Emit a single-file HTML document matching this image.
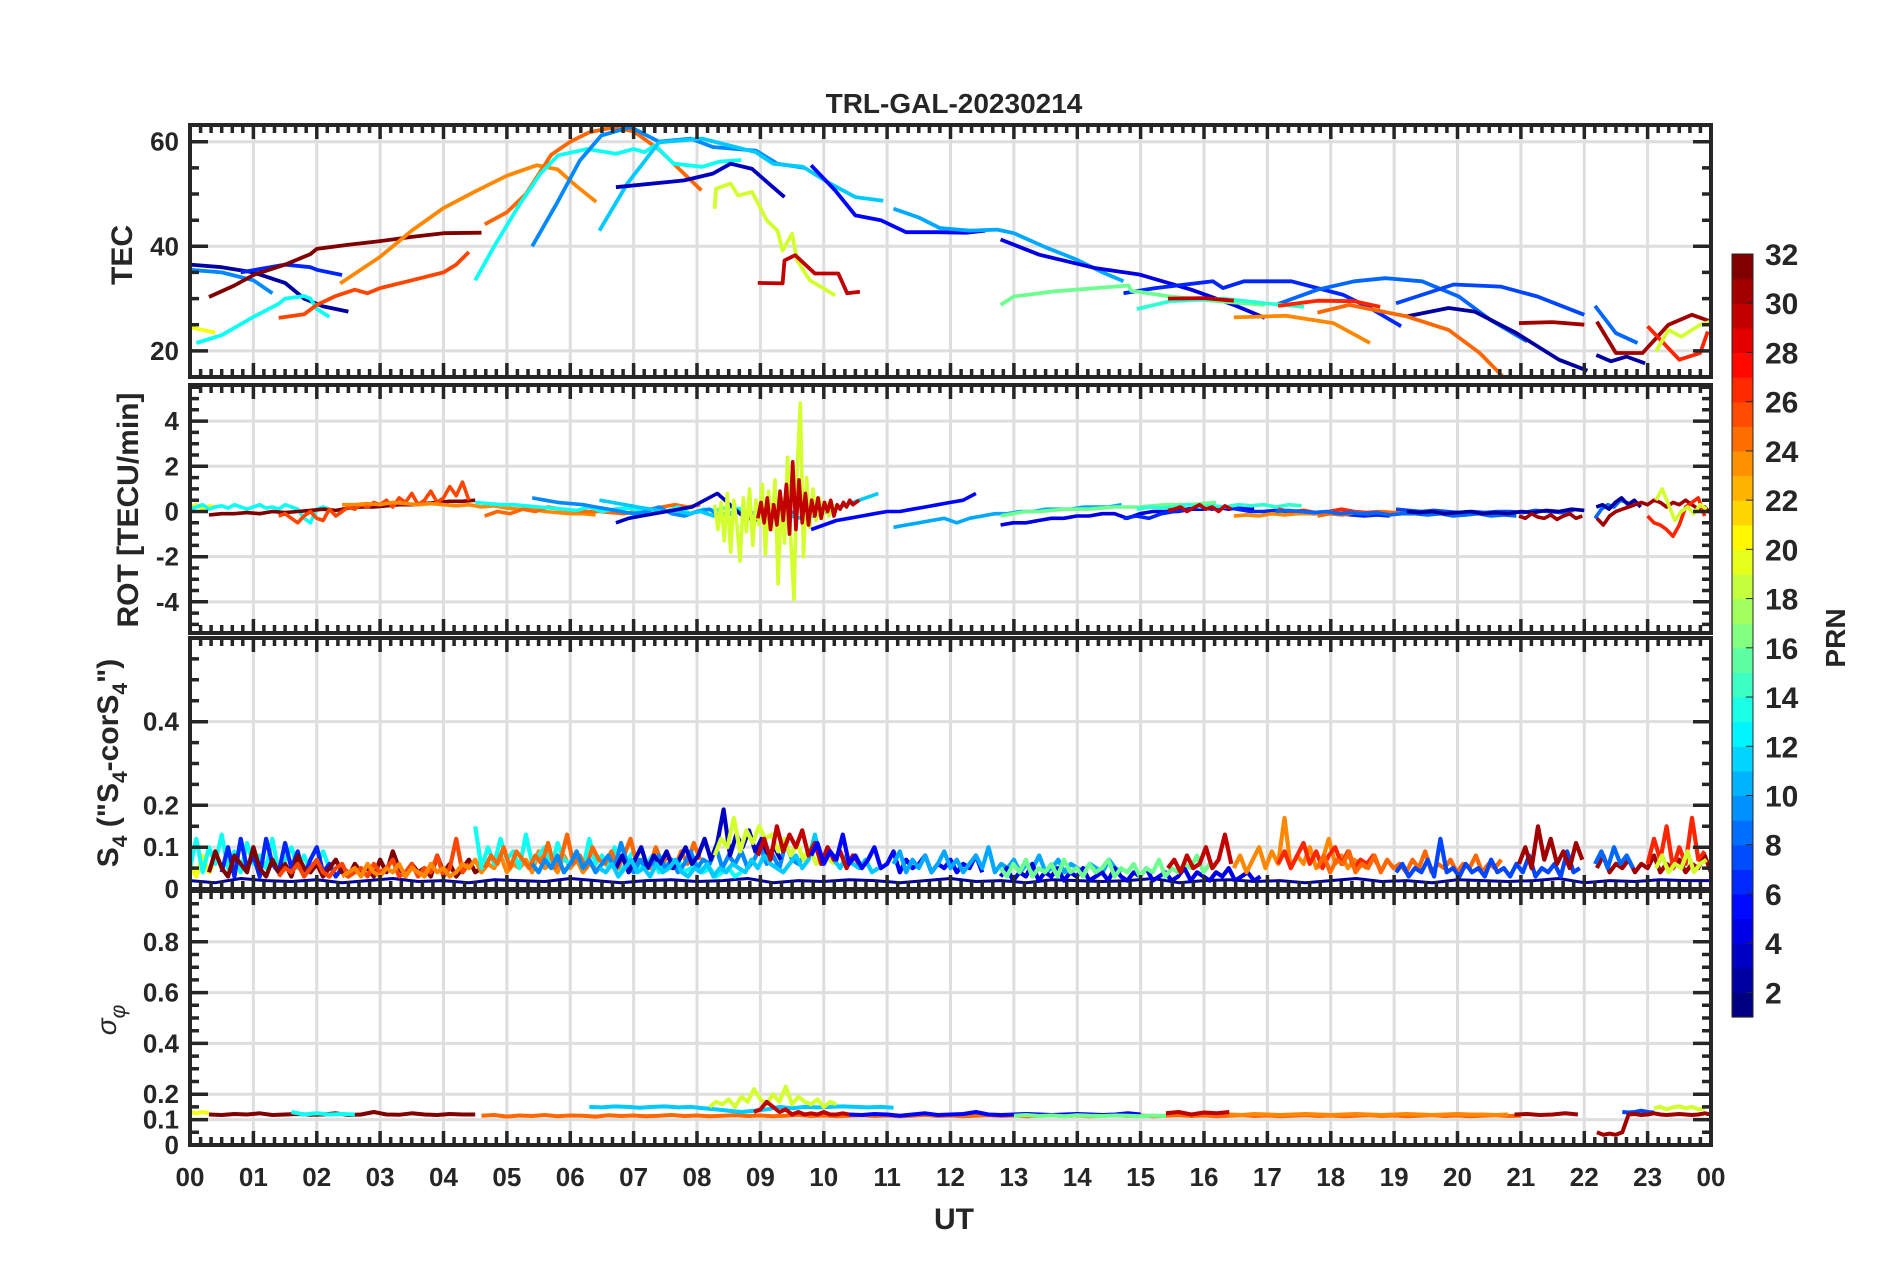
<!DOCTYPE html>
<html><head><meta charset="utf-8"><title>TRL-GAL-20230214</title>
<style>
html,body{margin:0;padding:0;background:#fff;}
svg{display:block;font-family:"Liberation Sans",Arial,sans-serif;}
</style></head>
<body>
<svg id="chart" xmlns="http://www.w3.org/2000/svg" width="1902" height="1272" viewBox="0 0 1902 1272">
<rect x="0" y="0" width="1902" height="1272" fill="#ffffff"/>
<text x="954" y="113" text-anchor="middle" font-size="28" font-weight="bold" fill="#262626">TRL-GAL-20230214</text>
<text x="954" y="1229" text-anchor="middle" font-size="30" font-weight="bold" fill="#262626">UT</text>
<text transform="translate(132,255) rotate(-90)" text-anchor="middle" font-size="30" font-weight="bold" fill="#262626">TEC</text>
<text transform="translate(138,510) rotate(-90)" text-anchor="middle" font-size="30" font-weight="bold" fill="#262626">ROT [TECU/min]</text>
<text transform="translate(118,763) rotate(-90)" text-anchor="middle" font-size="30" font-weight="bold" fill="#262626">S<tspan font-size="21" dy="9">4</tspan><tspan dy="-9"> ("S</tspan><tspan font-size="21" dy="9">4</tspan><tspan dy="-9">-corS</tspan><tspan font-size="21" dy="9">4</tspan><tspan dy="-9">")</tspan></text>
<text transform="translate(116,1020) rotate(-90)" text-anchor="middle" font-size="28" font-style="italic" fill="#262626">σ<tspan font-size="21" dy="9">φ</tspan></text>
<text transform="translate(1845,638) rotate(-90)" text-anchor="middle" font-size="28" font-weight="bold" fill="#262626">PRN</text>
<g id="layer"></g>
</svg>
<script>
// ---------- DATA ----------
const hourLabels = ["00","01","02","03","04","05","06","07","08","09","10","11","12","13","14","15","16","17","18","19","20","21","22","23","00"];
const tecTicks = [20,40,60];
const rotTicks = [-4,-2,0,2,4];
const s4Ticks = [0,0.1,0.2,0.4];
const sigTicks = [0,0.1,0.2,0.4,0.6,0.8];
const cbarTicks = [2,4,6,8,10,12,14,16,18,20,22,24,26,28,30,32];

// TEC arcs
const tecPrn = [2,9,6,32,20,13,26,24,25,13,9,11,3,5,19,30,10,4,6,8,7,2,16,14,30,27,24,25,31,8,2,31,27,19];
const tecTimes = [
[0,0.5,1,1.5,1.8,2.1,2.5],
[0,0.5,1,1.3],
[0.8,1.5,1.9,2,2.4],
[0.3,0.7,1,1.5,1.9,2,2.5,3,3.5,4,4.6],
[0,0.4],
[0.1,0.5,1,1.4,1.5,1.8,1.9,2,2.2],
[1.4,1.8,2,2.3,2.6,2.8,3,3.5,4,4.2,4.4],
[2.37,3,3.5,4,4.5,5,5.47,5.8,6.1,6.41],
[4.65,5,5.3,5.7,6,6.3,6.66,7,7.4,7.7,8.07],
[4.5,4.8,5.2,5.53,5.81,6.27,6.72,7,7.17,7.34,7.63,8.08,8.36,8.7],
[5.4,5.8,6.15,6.49,6.95,7.4,7.9,8.25,8.93,9.27,9.7],
[6.46,6.9,7.4,8.08,8.93,9.2,9.67,10.1,10.5,10.94],
[6.72,7.8,8.25,8.53,8.87,9.16,9.38],
[9.8,10.18,10.5,10.9,11.3,11.8,12.25,12.55],
[8.28,8.3,8.53,8.65,8.87,9.1,9.27,9.35,9.5,9.58,9.78,10.18],
[8.96,9.35,9.38,9.55,9.86,10.23,10.37,10.57],
[11.1,11.5,11.83,12.3,12.74,13,13.5,14,14.4,14.73],
[12.79,13.4,14.3,14.98,15.8,16.47,16.96],
[14.73,15.23,16.14,16.3,16.63,17.38,18.2,18.62,19.11],
[17.13,17.79,18.37,18.86,19.44,20.02,20.52,21.1],
[19.03,19.36,19.94,20.68,21.26,22.0],
[19.2,19.86,20.27,20.93,21.6,22.05],
[12.79,13,13.65,14.81,14.85,15.47,16.13,16.96],
[14.94,15.47,16.3,16.96,17.58],
[15.43,16.0,16.47],
[17.17,17.79,18.37,18.78],
[16.47,17.29,18.04,18.62],
[17.79,18.29,19.2,19.86,20.35,20.77],
[20.97,21.5,22.0],
[22.17,22.5,22.84],
[22.19,22.42,22.67,22.96],
[22.2,22.5,22.92,23.33,23.7,24],
[23,23.5,23.83,23.95],
[23.13,23.33,23.53,23.83,24]
];
const tecValues = [
[36.5,36,35,33,30,28.5,27.5],
[35.5,35,33.5,31],
[35,36.5,36,35.5,34.5],
[30.3,32.5,34.5,36.5,38.5,39.5,40.3,41,41.8,42.5,42.6],
[24.5,23.5],
[21.5,23,26.5,29,30,30.5,30,28,26.5],
[26.3,27,28.8,30.5,31.7,31,32,33.5,35,36.5,38.9],
[32.9,38,43,47.3,50.5,53.5,55.5,54.7,51.5,48.5],
[44.2,46.5,50,57.5,60,61.8,62.7,62,58.5,55,50.7],
[33.5,40,48,53.9,57.4,58.6,57.7,58.6,58,59.3,55.8,55.2,56.2,56.5],
[40,48.5,56.4,61.2,62.8,60,60.6,59,58.3,55.8,55],
[43,52,59.9,60.6,58,55.8,55.2,52,49.4,48.7],
[51.3,52.6,53.9,55.8,54.8,51.7,49.4],
[55.5,50.7,45.9,45,42.7,42.7,42.6,43],
[47.2,51,52,49.7,50.4,45,43,39.2,42.4,37.3,33.5,30.6],
[33,32.9,37.3,38.3,34.8,34.8,31,31.3],
[47.2,45.5,43.5,43,43.2,42.5,39.8,37.4,35,33.3],
[41.3,38.4,35.8,34.6,31.7,28.8,26.3],
[31,32,33.3,32,33.3,33.3,30.7,28.2,24.7],
[28.8,31.7,33.3,33.9,33.3,30.4,25.9,21.8],
[29.1,30.4,32.7,32.3,30.4,26.9],
[26.6,28.2,27.5,23.4,18.3,16.2],
[28.8,30.4,31.4,32.5,31.5,30.4,29.6,28.8],
[28,29.5,30,29.1,28.4],
[30,30.1,29.6],
[28.6,29.6,29.5,28.4],
[26.4,26.7,25.3,21.5],
[27.3,28.8,26.6,24,19.6,14.4],
[25.3,25.5,25],
[28.6,23.4,21.5],
[19.2,18,18.9,17.6],
[25.6,19.6,19.6,25,26.9,25.6],
[24.7,18.3,19.6,23.7],
[19.9,24,22.7,25,25.6]
];

// ROT arcs (start hour, step in hours, values)
const rotPrn = [20,13,32,26,24,25,13,9,11,3,19,30,5,10,4,16,6,14,30,24,27,25,8,7,2,31,8,2,31,27,19];
const rotStart = [0,0,0.3,1.4,2.4,4.65,4.5,5.4,6.46,6.72,8.28,8.96,9.8,11.1,12.79,12.79,14.73,14.94,15.43,16.47,17.17,17.79,17.13,19.03,19.2,20.97,22.17,22.19,22.2,23,23.13];
const rotStep = [0.1,0.1,0.2,0.1,0.2,0.2,0.2,0.2,0.2,0.2,0.05,0.05,0.2,0.2,0.2,0.2,0.2,0.2,0.1,0.2,0.2,0.2,0.2,0.2,0.2,0.1,0.1,0.1,0.1,0.1,0.1];
const rotValues = [
[0.2,0.3,0.1,0.25,0.2],
[0.1,0.2,0.3,0.1,0.2,0.25,0.15,0.3,0.2,0.1,0.2,0.3,0.15,0.2,0.1,0.3,0.2,0.1,-0.3,-0.5,0.1,0.2,0.1],
[-0.15,-0.1,-0.1,-0.05,-0.1,0,-0.05,0,0.05,0.1,0.05,0.15,0.2,0.2,0.25,0.3,0.3,0.35,0.4,0.45,0.45,0.5],
[-0.2,-0.1,-0.3,-0.5,-0.2,0,-0.3,-0.4,0.1,-0.2,0,0.2,0.1,0.3,0.2,0.4,0.3,0.5,0.2,0.6,0.4,0.8,0.3,0.5,0.9,0.4,0.6,1.1,0.7,1.3,0.5],
[0.3,0.3,0.35,0.3,0.4,0.35,0.3,0.35,0.3,0.25,0.3,0.2,0.25,0.15,0.1,0.1,0,-0.05,-0.1,-0.1,-0.15],
[-0.2,0,-0.1,0.1,0,0.2,0.1,0.05,0,0,-0.05,-0.1,0,0.1,0.2,0.3,0.2,0.3],
[0.4,0.35,0.3,0.3,0.25,0.2,0.15,0.1,0.05,0.2,0,0.1,0.15,0.05,-0.1,0,0.2,-0.1,0.1,0.05,0.2,0.1],
[0.6,0.5,0.4,0.35,0.3,0.2,0.1,0,-0.1,0,0.2,-0.1,-0.2,0,0.1,-0.3,0,-0.2,0.1,0.2,-0.1,0],
[0.5,0.4,0.3,0.2,0.1,0,0.05,-0.1,0,-0.2,-0.1,0,-0.3,-0.2,0,-0.2,-0.3,-0.2,0,0.2,0.4,0.6,0.8],
[-0.5,-0.3,-0.2,-0.1,0,0.1,0.2,0.5,0.8,0.3,-0.2,-0.4,0.2,0.5],
[0.3,-0.8,0.4,-1.3,0.8,-1.8,0.5,-0.6,-2.2,0.6,-0.9,1.0,-1.5,0.5,-0.6,1.2,-1.9,0.9,-0.8,1.4,-3.2,0.6,-1.4,2.4,-1.2,-3.9,1.8,4.8,-2.0,1.5,-0.7,1.0,-0.4,0.6,-0.3,0.4,-0.2,0.3,0.1],
[-0.3,0.4,-0.5,0.6,-0.8,0.3,-0.6,0.9,-0.4,1.2,-1.0,2.2,-0.8,1.4,-0.5,0.8,-0.6,0.5,-0.2,0.6,-0.3,0.4,0,0.5,-0.2,0.3,0.1,0.4,0.2,0.5,0.3,0.4,0.5],
[-0.8,-0.6,-0.4,-0.3,-0.2,-0.1,0,0,0.1,0.2,0.3,0.4,0.5,0.8],
[-0.7,-0.6,-0.5,-0.4,-0.3,-0.5,-0.3,-0.2,-0.1,-0.1,0,0,0.1,0.1,0.1,0.2,0.2,0.2,0.3],
[-0.6,-0.5,-0.5,-0.4,-0.3,-0.3,-0.2,-0.2,-0.1,-0.1,-0.3,-0.1,0,0,0,0.1,0.1,0.2,0.1,0.2,0.1],
[-0.2,-0.1,0,0,0.05,0.1,0.1,0.1,0.15,0.2,0.2,0.2,0.25,0.3,0.3,0.3,0.35,0.4],
[-0.3,-0.2,-0.3,-0.1,0,0.1,0.2,0.1,0.2,0.1,0,0,0.05,0,-0.05,-0.1,-0.05,-0.1,-0.15,-0.2,-0.15,-0.2],
[0.1,0.2,0.15,0.2,0.3,0.2,0.25,0.2,0.3,0.25,0.3,0.2,0.3,0.25],
[0.05,0.1,0.2,0,0.15,0.3,0.1,0.2,0,0.25,0.1],
[-0.2,-0.15,-0.2,-0.1,-0.15,-0.1,-0.1,-0.05,-0.1,0,-0.05],
[0.1,0,0.05,-0.05,0,0.1,0,-0.05,0],
[-0.2,-0.1,-0.15,-0.05,-0.1,0,-0.05,-0.1,0,-0.05,0,-0.1,-0.05,-0.1,-0.15,-0.1],
[0,0.05,0,-0.05,0,-0.1,-0.05,-0.1,-0.05,-0.15,-0.1,-0.1,-0.15,-0.1,-0.2,-0.15,-0.1,-0.2,-0.15,-0.2],
[0.1,0.05,0,0.05,0,-0.05,0,-0.05,0,0,-0.05,0.05,0,-0.05,0.05],
[0,-0.05,0,-0.1,-0.05,0,-0.1,-0.05,-0.1,0,-0.05,0.05,0,0.1,0.05],
[-0.2,-0.3,-0.1,-0.25,-0.3,-0.15,-0.35,-0.2,-0.1,-0.3,-0.2],
[-0.3,0.1,0.3,0.2,0.5,0.4,0.3],
[0.2,0.3,0.1,0.4,0.6,0.3,0.5,0.2],
[-0.3,-0.6,-0.2,0,0.1,0.2,0.3,0.4,0.3,0.5,0.4,0.2,0.4,0.3,0.5,0.3,0.1,0.2,-0.1],
[-0.2,-0.5,-0.6,-0.8,-1.1,-0.6,0.2,0.4,0.6,-0.2],
[0.5,1.0,0.3,-0.4,0,0.2,-0.1,0.3,0.1]
];

// S4 arcs
const s4Prn = [2,20,13,6,32,26,24,13,25,9,3,19,11,30,5,10,4,16,30,24,27,25,7,31,31,27,8,19];
const s4Start = [0,0,0,0.5,0.3,1.4,2.4,4.5,4.65,5.4,6.72,8.28,6.46,8.96,9.8,11.1,12.79,12.79,15.43,16.47,17.17,17.79,19.03,20.97,22.2,23,22.17,23.13];
const s4Step = [0.4,0.1,0.1,0.1,0.1,0.1,0.1,0.1,0.1,0.1,0.1,0.1,0.1,0.1,0.1,0.1,0.1,0.1,0.1,0.1,0.1,0.1,0.1,0.1,0.1,0.1,0.1,0.1];
const s4Values = [
[0.02,0.015,0.025,0.02,0.018,0.022,0.015,0.02,0.025,0.018,0.02,0.015,0.022,0.02,0.018,0.025,0.02,0.015,0.02,0.022,0.018,0.02,0.025,0.015,0.02,0.018,0.022,0.02,0.015,0.02,0.025,0.018,0.02,0.015,0.022,0.02,0.018,0.02,0.025,0.015,0.02,0.022,0.018,0.02,0.015,0.02,0.025,0.018,0.02,0.015,0.022,0.02,0.018,0.02,0.025,0.015,0.02,0.018,0.022,0.02,0.02],
[0.06,0.03,0.08,0.04,0.07],
[0.05,0.12,0.04,0.1,0.06,0.13,0.05,0.09,0.04,0.11,0.06,0.08,0.05,0.12,0.04,0.07,0.1,0.05,0.08,0.04,0.06,0.09,0.05],
[0.04,0.1,0.03,0.12,0.05,0.08,0.03,0.12,0.06,0.04,0.11,0.05,0.09,0.03,0.07,0.1,0.04,0.06,0.03,0.05,0.04],
[0.04,0.09,0.05,0.03,0.08,0.06,0.04,0.1,0.05,0.03,0.07,0.04,0.06,0.03,0.08,0.05,0.04,0.06,0.03,0.05,0.07,0.04,0.03,0.06,0.04,0.05,0.03,0.07,0.04,0.09,0.05,0.03,0.06,0.04,0.05,0.03,0.08,0.04,0.06,0.03,0.05,0.07,0.04,0.05],
[0.03,0.05,0.04,0.06,0.03,0.05,0.07,0.04,0.03,0.05,0.06,0.03,0.04,0.05,0.03,0.06,0.04,0.05,0.07,0.03,0.04,0.06,0.03,0.05,0.04,0.08,0.03,0.05,0.12,0.04,0.06],
[0.03,0.04,0.05,0.03,0.06,0.04,0.03,0.05,0.04,0.06,0.03,0.05,0.04,0.03,0.06,0.04,0.05,0.03,0.04,0.06,0.05,0.07,0.04,0.06,0.05,0.08,0.04,0.06,0.05,0.07,0.04,0.09,0.05,0.06,0.04,0.08,0.05,0.07,0.04,0.06,0.05],
[0.15,0.05,0.1,0.06,0.12,0.07,0.09,0.05,0.13,0.06,0.08,0.1,0.05,0.11,0.07,0.06,0.09,0.05,0.12,0.06,0.08,0.05,0.1,0.04,0.07,0.09,0.05,0.06,0.08,0.04,0.06,0.05,0.07,0.04,0.05,0.06,0.04,0.05,0.03,0.04,0.05,0.03,0.04],
[0.05,0.08,0.06,0.1,0.05,0.09,0.07,0.05,0.08,0.06,0.11,0.05,0.07,0.13,0.06,0.08,0.05,0.1,0.07,0.06,0.09,0.05,0.08,0.12,0.06,0.07,0.05,0.1,0.06,0.08,0.05,0.09,0.06,0.11,0.07],
[0.06,0.04,0.07,0.05,0.08,0.04,0.06,0.09,0.05,0.07,0.04,0.06,0.08,0.05,0.11,0.06,0.04,0.07,0.05,0.06,0.08,0.05,0.07,0.04,0.06,0.09,0.05,0.07,0.06,0.1,0.05,0.08,0.06,0.09,0.05,0.07,0.1,0.06,0.08,0.05,0.11,0.07,0.06,0.08],
[0.05,0.08,0.04,0.07,0.1,0.05,0.08,0.06,0.09,0.05,0.07,0.1,0.06,0.08,0.12,0.07,0.11,0.19,0.08,0.13,0.1,0.14,0.09,0.12,0.08,0.1,0.07],
[0.08,0.12,0.1,0.17,0.09,0.14,0.11,0.15,0.12,0.13,0.09,0.12,0.08,0.11,0.07,0.1,0.06,0.08,0.07,0.06],
[0.05,0.04,0.06,0.03,0.05,0.07,0.04,0.05,0.03,0.06,0.04,0.05,0.07,0.04,0.03,0.05,0.04,0.06,0.03,0.05,0.04,0.06,0.05,0.04,0.07,0.05,0.08,0.06,0.05,0.04,0.06,0.08,0.05,0.07,0.13,0.06,0.1,0.07,0.05,0.08,0.06,0.05,0.07,0.04,0.05],
[0.08,0.12,0.07,0.15,0.09,0.13,0.1,0.14,0.08,0.11,0.06,0.1,0.07,0.09,0.05,0.08,0.06],
[0.08,0.11,0.06,0.09,0.07,0.13,0.06,0.08,0.05,0.07,0.1,0.05,0.06,0.09,0.04,0.07,0.05,0.06,0.08,0.04,0.06,0.05,0.07,0.04,0.06,0.05,0.08,0.04],
[0.06,0.09,0.04,0.07,0.05,0.08,0.04,0.06,0.09,0.05,0.07,0.04,0.06,0.08,0.05,0.1,0.04,0.06,0.05,0.07,0.04,0.06,0.05,0.08,0.04,0.05,0.07,0.04,0.06,0.05,0.04,0.06,0.05,0.04,0.07,0.05,0.04],
[0.03,0.05,0.02,0.04,0.03,0.06,0.02,0.04,0.03,0.05,0.02,0.04,0.03,0.05,0.02,0.03,0.04,0.02,0.05,0.03,0.02,0.04,0.03,0.05,0.02,0.03,0.04,0.02,0.03,0.05,0.02,0.04,0.03,0.02,0.04,0.03,0.05,0.02,0.03,0.04,0.02,0.03],
[0.05,0.03,0.06,0.04,0.07,0.03,0.05,0.04,0.06,0.03,0.07,0.04,0.05,0.03,0.06,0.04,0.05,0.07,0.03,0.05,0.04,0.06,0.03,0.05,0.04,0.07,0.03,0.05,0.04,0.06,0.05,0.08,0.04,0.06,0.05],
[0.05,0.07,0.04,0.08,0.05,0.06,0.1,0.05,0.07,0.13,0.06],
[0.05,0.08,0.04,0.07,0.1,0.05,0.09,0.06,0.17,0.05,0.08,0.06,0.1,0.05,0.07,0.12,0.06,0.08,0.05,0.07,0.06,0.05],
[0.06,0.09,0.05,0.08,0.11,0.06,0.09,0.05,0.08,0.1,0.06,0.09,0.05,0.07,0.06,0.08,0.05],
[0.05,0.08,0.04,0.07,0.06,0.09,0.04,0.06,0.05,0.08,0.04,0.07,0.05,0.06,0.04,0.07,0.05,0.09,0.04,0.06,0.05,0.07,0.04,0.06,0.05,0.08,0.04,0.06,0.05,0.07],
[0.04,0.06,0.03,0.05,0.04,0.07,0.03,0.12,0.04,0.05,0.03,0.06,0.04,0.05,0.03,0.07,0.04,0.05,0.03,0.06,0.04,0.08,0.03,0.05,0.04,0.06,0.03,0.09,0.04,0.05],
[0.06,0.1,0.05,0.15,0.07,0.12,0.06,0.09,0.05,0.11,0.07],
[0.05,0.08,0.04,0.06,0.05,0.07,0.04,0.06,0.05,0.08,0.04,0.06,0.05,0.07,0.04,0.06,0.05,0.08,0.04],
[0.06,0.12,0.07,0.15,0.05,0.1,0.06,0.17,0.07,0.09],
[0.06,0.09,0.05,0.1,0.06,0.08,0.05],
[0.05,0.08,0.04,0.06,0.05,0.09,0.04,0.06,0.07]
];

// Sigma-phi arcs
const sigPrn = [20,32,13,25,11,19,30,5,16,30,24,31,7,31,19];
const sigStart = [0,0.3,1.6,4.6,6.3,8.2,8.9,10.4,13,15.4,16.4,20.9,22.6,22.2,23.1];
const sigStep = [0.1,0.2,0.2,0.2,0.2,0.1,0.1,0.2,0.2,0.2,0.2,0.2,0.1,0.1,0.1];
const sigValues = [
[0.13,0.125,0.13,0.125],
[0.12,0.118,0.122,0.12,0.125,0.118,0.12,0.122,0.119,0.12,0.125,0.118,0.12,0.13,0.12,0.119,0.125,0.12,0.118,0.122,0.12,0.12],
[0.13,0.12,0.125,0.12,0.122,0.12],
[0.115,0.118,0.112,0.116,0.114,0.118,0.113,0.116,0.115,0.112,0.117,0.114,0.116,0.113,0.115,0.118,0.114,0.116,0.113,0.115,0.117,0.114,0.116,0.113,0.115,0.118,0.114,0.116,0.113,0.115,0.117,0.114,0.116,0.113,0.115,0.118,0.114,0.116,0.113,0.115,0.117,0.114,0.116,0.113,0.115,0.117,0.114,0.116,0.113,0.115,0.117,0.114,0.116,0.113,0.115,0.117,0.114,0.116,0.113,0.115,0.117,0.114,0.116,0.113,0.115,0.117,0.114,0.116,0.113,0.115,0.117,0.114,0.116,0.113,0.115,0.117,0.114,0.116,0.113,0.115,0.117,0.114,0.115],
[0.15,0.148,0.152,0.15,0.147,0.15,0.152,0.148,0.15,0.145,0.14,0.135,0.13,0.135,0.14,0.15,0.145,0.15,0.148,0.15,0.152,0.15,0.148,0.15,0.147],
[0.15,0.17,0.16,0.18,0.15,0.19,0.17,0.22,0.18,0.16,0.2,0.17,0.23,0.16,0.19,0.17,0.16,0.18,0.15,0.17,0.16],
[0.13,0.14,0.17,0.15,0.13,0.14,0.12,0.13,0.12,0.125,0.12,0.13,0.12,0.12,0.125,0.12],
[0.12,0.118,0.122,0.12,0.115,0.12,0.125,0.118,0.12,0.122,0.13,0.12,0.118,0.12,0.122,0.12,0.118,0.12,0.122,0.12,0.118,0.12,0.125,0.12],
[0.115,0.118,0.114,0.116,0.113,0.117,0.115,0.114,0.116,0.115,0.113,0.116,0.114],
[0.125,0.13,0.12,0.128,0.125,0.13],
[0.12,0.118,0.122,0.12,0.118,0.12,0.122,0.12,0.118,0.12,0.122,0.12,0.118,0.12,0.122,0.12,0.118,0.12,0.122,0.12,0.12,0.118,0.12],
[0.12,0.122,0.118,0.12,0.125,0.12],
[0.13,0.128,0.13,0.135,0.13,0.128],
[0.05,0.04,0.045,0.04,0.05,0.12,0.122,0.118,0.12,0.125,0.12,0.118,0.12,0.122,0.12,0.118,0.12,0.125,0.12],
[0.145,0.15,0.14,0.148,0.152,0.145,0.15,0.14,0.145]
];

// ---------- LAYOUT ----------
const SVGNS = "http://www.w3.org/2000/svg";
const X0 = 190, X1 = 1711;
const panels = [
  {name:"tec", top:125, bot:377, min:15, max:63.2, major:tecTicks, minorStep:5, labels:tecTicks.map(String)},
  {name:"rot", top:385, bot:633, min:-5.38, max:5.6, major:rotTicks, minorStep:0.5, labels:rotTicks.map(String)},
  {name:"s4", top:638, bot:889, min:0, max:0.6, major:s4Ticks, minorStep:0.05, labels:["0","0.1","0.2","0.4"]},
  {name:"sigma", top:891, bot:1145, min:0, max:1, major:sigTicks, minorStep:0.05, labels:["0","0.1","0.2","0.4","0.6","0.8"]}
];
const layer = document.getElementById('layer');
function xs(h){ return X0 + (X1 - X0) * h / 24; }
function ys(p, v){ return p.bot - (v - p.min) / (p.max - p.min) * (p.bot - p.top); }
function jet(t){
  const c = v => Math.round(255 * Math.max(0, Math.min(1, v)));
  return "rgb(" + c(1.5 - Math.abs(4*t - 3)) + "," + c(1.5 - Math.abs(4*t - 2)) + "," + c(1.5 - Math.abs(4*t - 1)) + ")";
}
function prnColor(prn){ return jet((prn - 1) / 31); }
function mk(tag, parent){ const e = document.createElementNS(SVGNS, tag); parent.appendChild(e); return e; }

const defs = mk('defs', layer);
panels.forEach((p, i) => {
  const cp = mk('clipPath', defs);
  cp.setAttribute('id', 'clip' + i);
  const r = mk('rect', cp);
  r.setAttribute('x', X0); r.setAttribute('y', p.top);
  r.setAttribute('width', X1 - X0); r.setAttribute('height', p.bot - p.top);
});

// grids
panels.forEach((p) => {
  const g = mk('g', layer);
  
  
  for (let h = 1; h < 24; h++){
    const l = mk('line', g);
    
    
    l.setAttribute('x1', xs(h)); l.setAttribute('x2', xs(h));
    l.setAttribute('y1', p.top); l.setAttribute('y2', p.bot);
    l.setAttribute('stroke', '#dedede'); l.setAttribute('stroke-width', 3);
  }
  p.major.forEach(v => {
    if (v === 0) return;
    const l = mk('line', g);
    
    
    l.setAttribute('x1', X0); l.setAttribute('x2', X1);
    l.setAttribute('y1', ys(p, v)); l.setAttribute('y2', ys(p, v));
    l.setAttribute('stroke', '#dedede'); l.setAttribute('stroke-width', 3);
  });
});

// series drawing
function drawSeries(pi, prn, pts, name, width){
  const p = panels[pi];
  const d = pts.map((q, k) => (k ? 'L' : 'M') + xs(q[0]).toFixed(1) + ',' + ys(p, q[1]).toFixed(1)).join('');
  const path = mk('path', layer);
  
  
  path.setAttribute('d', d);
  path.setAttribute('fill', 'none');
  path.setAttribute('stroke', prnColor(prn));
  path.setAttribute('stroke-width', width);
  path.setAttribute('stroke-linejoin', 'round');
  path.setAttribute('clip-path', 'url(#clip' + pi + ')');
}
function stepPts(start, step, vals){ return vals.map((v, k) => [start + k * step, v]); }

tecPrn.forEach((prn, i) => drawSeries(0, prn, tecTimes[i].map((t, k) => [t, tecValues[i][k]]), 'tec-series-prn' + prn, 3.8));
rotPrn.forEach((prn, i) => drawSeries(1, prn, stepPts(rotStart[i], rotStep[i], rotValues[i]), 'rot-series-prn' + prn, 3.6));
s4Prn.forEach((prn, i) => drawSeries(2, prn, stepPts(s4Start[i], s4Step[i], s4Values[i]), 's4-series-prn' + prn, i === 0 ? 3 : 4.2));
sigPrn.forEach((prn, i) => drawSeries(3, prn, stepPts(sigStart[i], sigStep[i], sigValues[i]), 'sigma-series-prn' + prn, 4));

// frames, ticks, labels
panels.forEach((p, pi) => {
  const g = mk('g', layer);
  
  
  const fr = mk('rect', g);
  
  
  fr.setAttribute('x', X0); fr.setAttribute('y', p.top);
  fr.setAttribute('width', X1 - X0); fr.setAttribute('height', p.bot - p.top);
  fr.setAttribute('fill', 'none'); fr.setAttribute('stroke', '#262626'); fr.setAttribute('stroke-width', 4);
  let path = '';
  for (let m = 0; m <= 144; m++){
    const x = xs(m / 6).toFixed(1);
    const len = (m % 6 === 0) ? 14 : 8;
    path += 'M' + x + ',' + p.top + 'v' + len + 'M' + x + ',' + p.bot + 'v-' + len;
  }
  const n = Math.round((p.max - p.min) / p.minorStep) + 2;
  const firstMinor = Math.ceil(p.min / p.minorStep) * p.minorStep;
  for (let k = 0; k < n; k++){
    const v = firstMinor + k * p.minorStep;
    if (v > p.max) break;
    const y = ys(p, v).toFixed(1);
    const isMajor = p.major.some(m => Math.abs(m - v) < 1e-6);
    const len = isMajor ? 18 : 9;
    path += 'M' + X0 + ',' + y + 'h' + len + 'M' + X1 + ',' + y + 'h-' + len;
  }
  p.major.forEach(v => {
    const y = ys(p, v).toFixed(1);
    path += 'M' + X0 + ',' + y + 'h18M' + X1 + ',' + y + 'h-18';
  });
  const tk = mk('path', g);
  
  
  tk.setAttribute('d', path);
  tk.setAttribute('stroke', '#262626'); tk.setAttribute('stroke-width', 3.5); tk.setAttribute('fill', 'none');
  p.major.forEach((v, k) => {
    const t = mk('text', g);
    
    
    t.setAttribute('x', 179); t.setAttribute('y', ys(p, v) + 9);
    t.setAttribute('text-anchor', 'end');
    t.setAttribute('font-size', 26); t.setAttribute('font-weight', 'bold'); t.setAttribute('fill', '#262626');
    t.textContent = p.labels[k];
  });
});

// x tick labels
hourLabels.forEach((lab, h) => {
  const t = mk('text', layer);
  
  
  t.setAttribute('x', xs(h)); t.setAttribute('y', 1186);
  t.setAttribute('text-anchor', 'middle');
  t.setAttribute('font-size', 26); t.setAttribute('font-weight', 'bold'); t.setAttribute('fill', '#262626');
  t.textContent = lab;
});

// colorbar
const CB = {x:1732, w:21, top:254, bot:1017, min:1, max:32};
const cbG = mk('g', layer);


function cby(v){ return CB.bot - (v - CB.min) / (CB.max - CB.min) * (CB.bot - CB.top); }
for (let b = 0; b < 31; b++){
  const r = mk('rect', cbG);
  
  
  const y1 = cby(CB.min + b + 1), y2 = cby(CB.min + b);
  r.setAttribute('x', CB.x); r.setAttribute('y', y1);
  r.setAttribute('width', CB.w); r.setAttribute('height', y2 - y1 + 0.6);
  r.setAttribute('fill', jet(b / 30));
}
const cbf = mk('rect', cbG);


cbf.setAttribute('x', CB.x); cbf.setAttribute('y', CB.top);
cbf.setAttribute('width', CB.w); cbf.setAttribute('height', CB.bot - CB.top);
cbf.setAttribute('fill', 'none'); cbf.setAttribute('stroke', '#262626'); cbf.setAttribute('stroke-width', 1);
cbarTicks.forEach(v => {
  const l = mk('line', cbG);
  
  
  l.setAttribute('x1', CB.x + CB.w - 7); l.setAttribute('x2', CB.x + CB.w);
  l.setAttribute('y1', cby(v)); l.setAttribute('y2', cby(v));
  l.setAttribute('stroke', '#262626'); l.setAttribute('stroke-width', 1);
  const t = mk('text', cbG);
  
  
  t.setAttribute('x', 1765); t.setAttribute('y', cby(v) + 11);
  t.setAttribute('font-size', 30); t.setAttribute('font-weight', 'bold'); t.setAttribute('fill', '#262626');
  t.textContent = String(v);
});
</script>
</body></html>
